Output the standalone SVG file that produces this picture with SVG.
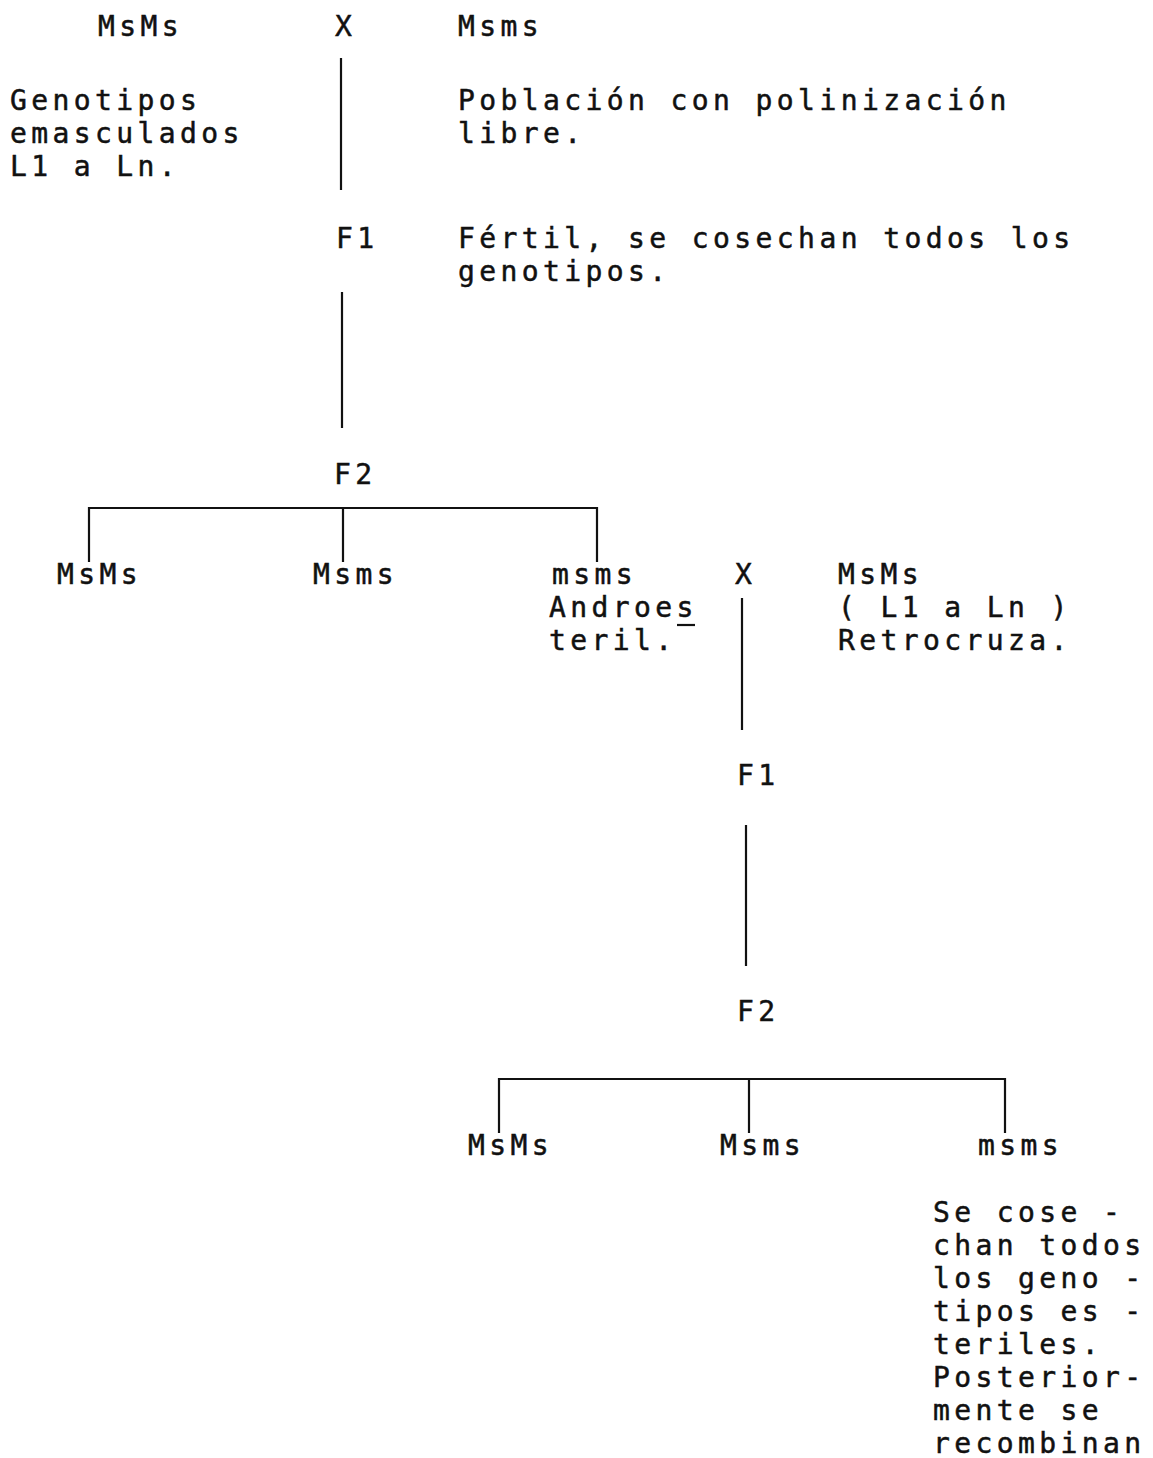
<svg xmlns="http://www.w3.org/2000/svg" width="1153" height="1458" viewBox="0 0 1153 1458">
<style>
text{font-family:"DejaVu Sans Mono","Liberation Mono",monospace;font-size:28px;letter-spacing:4.4px;fill:#111;stroke:#111;stroke-width:0.5}
.ln{stroke:#111;stroke-width:2.2;fill:none}
</style>
<rect width="1153" height="1458" fill="#fff"/>
<g id="connectors">
<line class="ln" x1="341" y1="58" x2="341" y2="190"/>
<line class="ln" x1="342" y1="292" x2="342" y2="428"/>
<path class="ln" d="M89 562 V508 H597 V562 M343 508 V562"/>
<line class="ln" x1="742" y1="598" x2="742" y2="730"/>
<line class="ln" x1="746" y1="825" x2="746" y2="966"/>
<path class="ln" d="M499 1133 V1079 H1005 V1133 M749 1079 V1133"/>
<line class="ln" x1="677" y1="625" x2="695" y2="625"/>
</g>
<g id="p1"><text x="98" y="36">MsMs</text></g>
<g id="x1"><text x="335" y="36">X</text></g>
<g id="p2"><text x="458" y="36">Msms</text></g>
<g id="note1"><text x="10" y="110">Genotipos</text><text x="10" y="143">emasculados</text><text x="10" y="176">L1 a Ln.</text></g>
<g id="note2"><text x="458" y="110">Población con polinización</text><text x="458" y="143">libre.</text></g>
<g id="f1a"><text x="336" y="248">F1</text></g>
<g id="note3"><text x="458" y="248">Fértil, se cosechan todos los</text><text x="458" y="281">genotipos.</text></g>
<g id="f2a"><text x="334" y="484">F2</text></g>
<g id="g1"><text x="57" y="584">MsMs</text></g>
<g id="g2"><text x="313" y="584">Msms</text></g>
<g id="g3"><text x="552" y="584">msms</text><text x="549" y="617">Androes</text><text x="549" y="650">teril.</text></g>
<g id="x2"><text x="735" y="584">X</text></g>
<g id="p3"><text x="838" y="584">MsMs</text><text x="838" y="617">( L1 a Ln )</text><text x="838" y="650">Retrocruza.</text></g>
<g id="f1b"><text x="737" y="785">F1</text></g>
<g id="f2b"><text x="737" y="1021">F2</text></g>
<g id="h1"><text x="468" y="1155">MsMs</text></g>
<g id="h2"><text x="720" y="1155">Msms</text></g>
<g id="h3"><text x="978" y="1155">msms</text></g>
<g id="note4"><text x="933" y="1222">Se cose -</text><text x="933" y="1255">chan todos</text><text x="933" y="1288">los geno -</text><text x="933" y="1321">tipos es -</text><text x="933" y="1354">teriles.</text><text x="933" y="1387">Posterior-</text><text x="933" y="1420">mente se</text><text x="933" y="1453">recombinan</text></g>
</svg>
